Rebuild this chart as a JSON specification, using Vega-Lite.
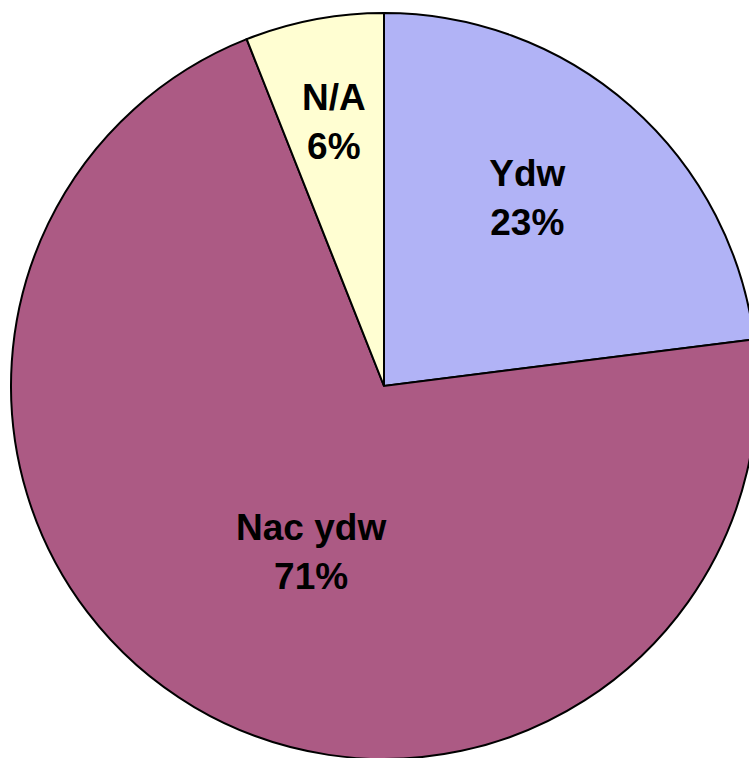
{
  "$schema": "https://vega.github.io/schema/vega-lite/v6.json",
  "autosize": {"type": "none"},
  "width": 768,
  "height": 772,
  "padding": 0,
  "background": "white",
  "view": {"stroke": null},
  "data": {"values": [
    {"cat": "Ydw", "pct": 23, "label": "Ydw\n23%"},
    {"cat": "Nac ydw", "pct": 71, "label": "Nac ydw\n71%"},
    {"cat": "N/A", "pct": 6, "label": "N/A\n6%"}
  ]},
  "encoding": {
    "theta": {"field": "pct", "type": "quantitative", "stack": true},
    "order": {"field": "cat", "type": "nominal", "sort": "descending"}
  },
  "layer": [
    {
      "mark": {"type": "arc", "radius": 373, "stroke": "black", "strokeWidth": 2},
      "encoding": {
        "color": {
          "field": "cat", "type": "nominal", "sort": ["Ydw", "Nac ydw", "N/A"],
          "scale": {"domain": ["Ydw", "Nac ydw", "N/A"], "range": ["#b1b3f6", "#ac5a84", "#fffed2"]},
          "legend": null
        }
      }
    },
    {
      "mark": {"type": "text", "radius": 236, "thetaOffset": -0.07, "dy": -23, "font": "Liberation Sans", "fontWeight": "bold", "fontSize": 37, "lineBreak": "\n", "lineHeight": 49, "fill": "black", "baseline": "middle", "align": "center"},
      "encoding": {"text": {"condition": {"test": "datum.cat == 'Ydw'", "field": "label"}, "value": ""}}
    },
    {
      "mark": {"type": "text", "radius": 182, "thetaOffset": -0.122, "dy": -24, "font": "Liberation Sans", "fontWeight": "bold", "fontSize": 37, "lineBreak": "\n", "lineHeight": 49, "fill": "black", "baseline": "middle", "align": "center"},
      "encoding": {"text": {"condition": {"test": "datum.cat == 'Nac ydw'", "field": "label"}, "value": ""}}
    },
    {
      "mark": {"type": "text", "radius": 268, "dy": -24, "font": "Liberation Sans", "fontWeight": "bold", "fontSize": 37, "lineBreak": "\n", "lineHeight": 49, "fill": "black", "baseline": "middle", "align": "center"},
      "encoding": {"text": {"condition": {"test": "datum.cat == 'N/A'", "field": "label"}, "value": ""}}
    }
  ]
}
